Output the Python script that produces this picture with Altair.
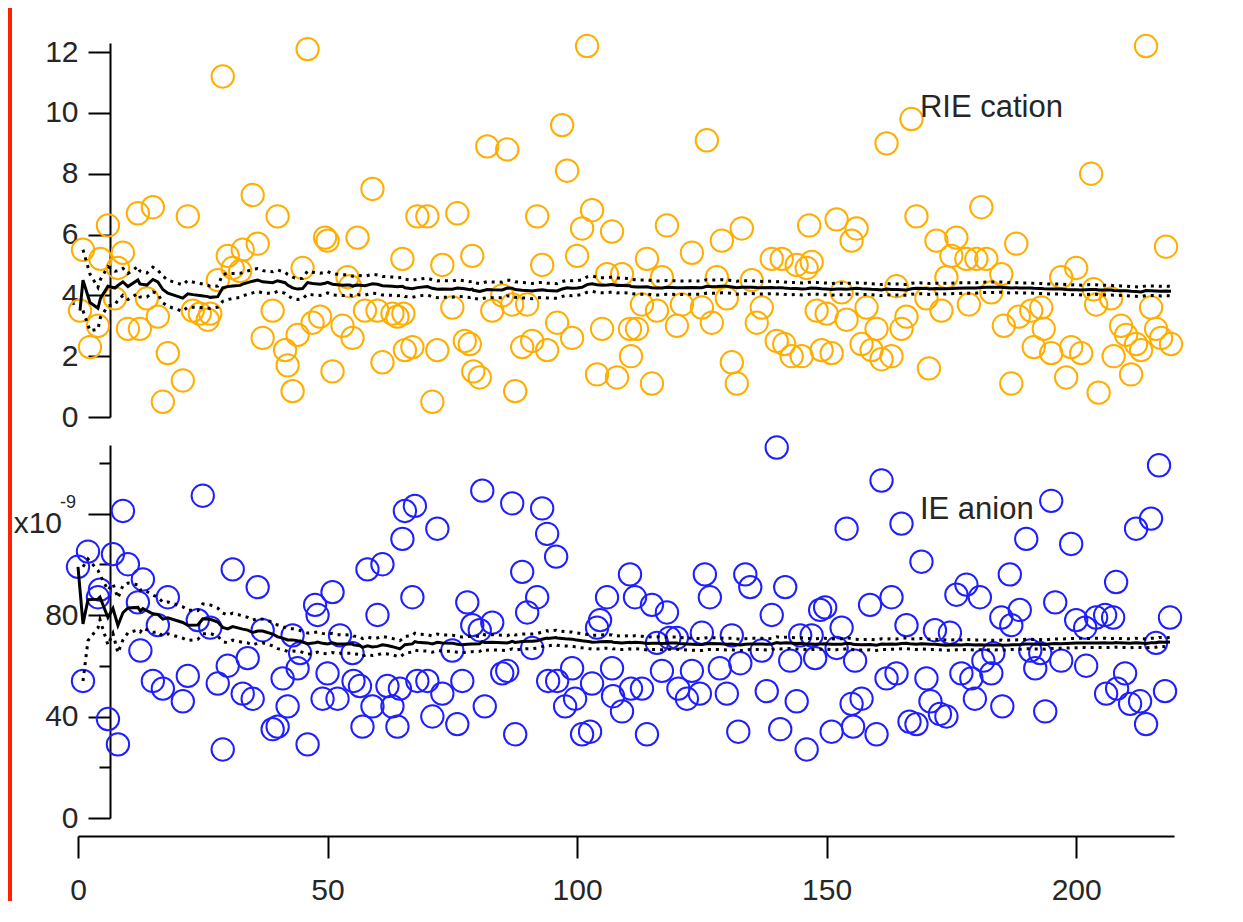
import altair as alt
import pandas as pd

# ---------------- data ----------------
# RIE cation (top panel): particle index, value
rie_x = [0.4, 1, 2.4, 4, 4.5, 6, 7.4, 8, 9, 10, 12, 12.4, 13.8, 15, 16, 17, 18, 21, 22, 23,
         24.4, 26, 26.5, 28, 29, 30, 31, 32.5, 33, 35, 36, 37, 39, 40, 41.5, 42, 43, 44, 45, 46,
         47, 48.5, 49.5, 50, 51, 53, 54, 54.5, 55, 56, 57.5, 59, 60, 61, 63, 64, 65, 65.5, 67, 68,
         65.2, 70, 71, 72, 73, 75, 76, 77.5, 78.5, 79, 79.2, 80.5, 82, 83, 85, 86, 87, 87.6, 89, 90,
         91, 92, 93, 94, 96, 97, 98, 99, 100, 101, 102, 103, 104, 105, 106, 107, 108, 109, 110.6, 110.8,
         112, 113, 114, 115, 116, 117, 118, 120, 121, 123, 125, 126, 127, 128, 129, 130, 131, 132, 133, 135,
         136, 137, 139, 140, 141, 141.5, 143, 144, 146, 146.5, 148, 149,
         145, 147, 150, 151, 152, 153, 154, 155, 156, 157, 158, 159, 160, 161, 162, 163, 164, 165, 166, 167,
         168, 170, 170.5, 172, 173, 174, 175, 176, 178, 178.5, 180, 181, 182, 183, 185, 185.5, 187, 188, 188.5, 191,
         191.5, 193, 193.5, 195, 197, 198, 199, 200, 201, 203, 203.5, 204, 204.5, 207, 207.5, 209, 210, 211, 212, 213,
         214, 215, 216, 217, 218, 219]
rie_v = [3.5, 5.5, 2.3, 3.0, 5.2, 6.3, 3.9, 4.9, 5.4, 2.9, 6.7, 2.9, 3.9, 6.9, 3.3, 0.5, 2.1, 1.2, 6.6, 3.5,
         3.4, 3.2, 3.4, 4.5, 11.2, 5.3, 4.9, 4.8, 5.5, 7.3, 5.7, 2.6, 3.5, 6.6, 2.2, 1.7, 0.85, 2.7, 4.9, 12.1,
         3.1, 3.3, 5.9, 5.8, 1.5, 3.0, 4.6, 4.3, 2.6, 5.9, 3.5, 7.5, 3.5, 1.8, 3.4, 3.3, 5.2, 2.2, 2.3, 6.6,
         3.4, 6.6, 0.5, 2.2, 5.0, 3.6, 6.7, 2.5, 2.4, 5.3, 1.5, 1.3, 8.9, 3.5, 4.0, 8.8, 3.7, 0.85, 2.3, 3.7,
         2.5, 6.6, 5.0, 2.2, 3.1, 9.6, 8.1, 2.6, 5.3, 6.2, 12.2, 6.8, 1.4, 2.9, 4.7, 6.1, 1.3, 4.7, 2.9, 2.0,
         2.9, 3.7, 5.2, 1.1, 3.5, 4.6, 6.3, 3.0, 3.7, 5.4, 3.6, 9.1, 3.1, 4.6, 5.8, 3.9, 1.8, 1.1, 6.2, 4.5,
         3.1, 3.6, 5.2, 2.5, 5.2, 2.4, 2.0, 5.0, 4.9, 6.3, 3.5, 2.2,
         2.0, 5.1, 3.4, 2.1, 6.5, 4.1, 3.2, 5.8, 6.2, 2.4, 3.6, 2.2, 2.9, 1.9, 9.0, 2.0, 4.3, 2.9, 3.3, 9.8,
         6.6, 3.9, 1.6, 5.8, 3.5, 4.6, 5.3, 5.9, 5.2, 3.7, 5.2, 6.9, 5.2, 4.1, 4.7, 3.0, 1.1, 5.7, 3.3, 3.5,
         2.3, 3.6, 2.9, 2.1, 4.6, 1.3, 2.3, 4.9, 2.1, 8.0, 4.2, 3.7, 0.8, 3.9, 2.0, 3.0, 2.7, 1.4, 2.4, 2.2,
         12.2, 3.6, 2.9, 2.6, 5.6, 2.4]

# IE anion (bottom panel, x10^-9): particle index, value
ie_x = [0, 1, 2, 4, 4.4, 6, 7, 8, 9, 10, 12, 12.5, 13, 15, 16, 17, 18, 21, 22, 24,
        25, 26.5, 28, 29, 30, 31, 33, 34, 35, 36, 37, 39, 40, 41, 42, 43, 44, 44.5, 46, 47.5,
        48, 49, 50, 51, 52, 52.5, 55, 55.2, 56.5, 57, 58, 59, 60, 61, 62, 63, 64, 65, 65.5, 67,
        67.5, 68,
        64.5, 70, 71, 72, 73, 75, 76, 77, 78, 79, 80.5, 81, 81.5, 83, 85, 86, 87, 87.6, 89, 90,
        91, 92, 93, 94, 94.2, 95.8, 96, 97.6, 99, 99.6, 101, 102.6, 103, 104, 104.6, 106, 107, 107.2, 109, 110.6,
        110.8, 111.6, 113, 114, 115, 116, 117, 118, 118.5, 120, 120.3, 122, 123, 124.6, 125, 125.6, 126.6, 128.6, 130, 131,
        132.3, 132.7, 133.7, 134.7, 137, 138, 139, 140, 140.7, 141.7, 142.7, 144, 144.7, 146, 147, 147.7, 148.7,
        149.7, 151, 152, 153, 154, 155, 155.3, 155.7, 157, 158.7, 160, 161, 162, 163, 164, 165, 166, 166.6, 168, 169,
        170, 170.8, 171.7, 172.7, 174, 174.7, 176, 177, 178, 179, 179.7, 180.7, 181.4, 183, 183.4, 185, 185.2, 186.7, 187, 188.7,
        190, 190.8, 191.8, 192.8, 193.8, 195, 195.8, 197, 199, 200, 201.8, 202, 204, 205.8, 206, 207.4, 208, 208.2, 209.8, 210.8,
        212, 212.8, 214, 215, 216, 216.6, 217.8, 218.8]
ie_v = [99, 54, 105, 87, 90, 39, 104, 29, 121, 100, 85, 66, 94, 54, 76, 51, 87, 46, 56, 78,
        127, 75, 53, 27, 60, 98, 49, 63, 47, 91, 74, 35, 36, 55, 44, 72, 59, 65, 29, 84,
        80, 47, 57, 89, 47, 72, 65, 54, 52, 36, 98, 44, 80, 100, 52, 44, 36, 110, 121, 87,
        123, 54,
        51, 54, 40, 114, 49, 66, 37, 54, 85, 76, 74, 129, 44, 77, 57, 58, 124, 33, 97, 81,
        67, 87, 122, 112, 54, 103, 54, 44, 59, 47, 33, 34, 53, 75, 78, 87, 59, 48, 42, 96,
        51, 87, 51, 33, 84, 69, 58, 81, 71, 71, 51, 47, 58, 49, 73, 96, 87, 59, 49, 72,
        34, 61, 96, 91, 66, 50, 80, 146, 35, 91, 62, 46, 72, 27, 72, 63, 82,
        83, 34, 67, 75, 114, 45, 36, 62, 47, 84, 33, 133, 55, 87, 57, 116, 76, 38, 37, 101,
        55, 46, 74, 41, 40, 73, 88, 57, 92, 55, 47, 87, 62, 57, 65, 79, 44, 96, 76, 82,
        110, 66, 59, 65, 42, 125, 85, 62, 108, 78, 75, 60, 79, 80, 49, 79, 93, 51, 57, 45,
        114, 46, 37, 118, 69, 139, 50, 79]

x_ticks = [0, 50, 100, 150, 200]
top_ticks = [0, 2, 4, 6, 8, 10, 12]
bottom_ticks = [0, 20, 40, 60, 80, 100, 120, 140]

top_label = {"x": [168.7], "y": [9.87], "t": ["RIE cation"]}
bottom_label = {"x": [168.7], "y": [117.7], "t": ["IE anion"]}
exp_base = {"x": [-3.2], "y": [112.2], "t": ["x10"]}
exp_power = {"x": [-3.6], "y": [122.0], "t": ["-9"]}

# ---------------- styling ----------------
FONT = "Liberation Sans"
ORANGE = "#FFAE00"
BLUE = "#1E1EFF"
TXT = "#262626"
XMAX = 219.6

xscale = alt.Scale(domain=[0, XMAX], nice=False, zero=False)
top_scale = alt.Scale(domain=[0, 12.3], nice=False, zero=False)
bot_scale = alt.Scale(domain=[0, 147], nice=False, zero=False)

common_axis = dict(offset=-32, labelPadding=10, domainColor="black", domainWidth=2,
                   tickColor="black", tickWidth=2, labelFontSize=30, labelFont=FONT,
                   labelColor=TXT, grid=False, title=None, labelOverlap=False)

top_yaxis = alt.Axis(values=top_ticks, tickSize=22, **common_axis)
bot_yaxis = alt.Axis(values=bottom_ticks,
                     tickSize={"condition": {"test": "datum.value % 40 === 0", "value": 22}, "value": 11},
                     labelExpr="(datum.value % 40 === 0 && datum.value < 120) ? datum.label : ''",
                     **common_axis)
bot_xaxis = alt.Axis(values=x_ticks, tickSize=22, offset=18, labelPadding=17, domainColor="black",
                     domainWidth=2, tickColor="black", tickWidth=2, labelFontSize=30, labelFont=FONT,
                     labelColor=TXT, grid=False, title=None, labelFlush=False, labelOverlap=False)


def panel(xs, vs, color, yscale, yaxis, xaxis, label, extra):
    df = pd.DataFrame({"x": xs, "v": vs}).sort_values("x").reset_index(drop=True)
    base = alt.Chart(df)
    X = lambda f: alt.X(f, scale=xscale, axis=xaxis)
    Y = lambda f: alt.Y(f, scale=yscale, axis=yaxis)
    pts = base.mark_point(shape="circle", filled=False, size=500, strokeWidth=2,
                          color=color, opacity=1).encode(x=X("x:Q"), y=Y("v:Q"))
    stats = base.transform_window(
        mean="mean(v)", sd="stdev(v)", n="count(v)",
        sort=[alt.SortField("x", order="ascending")], frame=[None, 0])
    mean_line = stats.mark_line(color="black", strokeWidth=3).encode(x=X("x:Q"), y=Y("mean:Q"))
    band = stats.transform_filter("datum.n > 1").transform_calculate(
        lo="datum.mean - datum.sd / sqrt(datum.n)",
        hi="datum.mean + datum.sd / sqrt(datum.n)")
    lo = band.mark_line(color="black", strokeWidth=3, strokeDash=[3, 5]).encode(x=X("x:Q"), y=Y("lo:Q"))
    hi = band.mark_line(color="black", strokeWidth=3, strokeDash=[3, 5]).encode(x=X("x:Q"), y=Y("hi:Q"))
    txt = alt.Chart(pd.DataFrame(label)).mark_text(
        align="left", baseline="alphabetic", fontSize=31, font=FONT, color=TXT).encode(
        x=X("x:Q"), y=Y("y:Q"), text="t:N")
    layers = [e(X, Y) for e in extra]
    return alt.layer(*layers, pts, lo, hi, mean_line, txt)


def red_bar(X, Y):
    # screenshot frame: red bar at the left edge
    return alt.Chart(pd.DataFrame({"a": [0]})).mark_rect(color="#FF2200").encode(
        x=alt.value(-70), x2=alt.value(-66), y=alt.value(-35), y2=alt.value(858))


def exponent(X, Y):
    e1 = alt.Chart(pd.DataFrame(exp_base)).mark_text(
        align="right", baseline="alphabetic", fontSize=30, font=FONT, color=TXT).encode(
        x=X("x:Q"), y=Y("y:Q"), text="t:N")
    e2 = alt.Chart(pd.DataFrame(exp_power)).mark_text(
        align="left", baseline="alphabetic", fontSize=18, font=FONT, color=TXT).encode(
        x=X("x:Q"), y=Y("y:Q"), text="t:N")
    return alt.layer(e1, e2)


top = panel(rie_x, rie_v, ORANGE, top_scale, top_yaxis, None, top_label, [red_bar]).properties(
    width=1096, height=374)
bottom = panel(ie_x, ie_v, BLUE, bot_scale, bot_yaxis, bot_xaxis, bottom_label, [exponent]).properties(
    width=1096, height=373)

chart = alt.vconcat(top, bottom, spacing=28, bounds="flush").properties(
    padding=0, background="white").configure_view(stroke=None)

chart.save("out.html", embed_options={"renderer": "svg", "actions": False})
